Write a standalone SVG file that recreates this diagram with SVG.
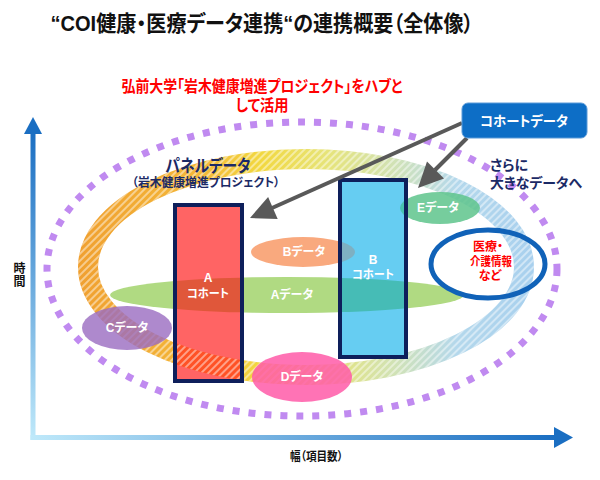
<svg xmlns="http://www.w3.org/2000/svg" width="600" height="480" viewBox="0 0 600 480">
<style>
text{font-family:"Liberation Sans","Noto Sans CJK JP",sans-serif;font-weight:bold;font-feature-settings:"palt"}
.lbl{fill:#fff;font-size:12px;text-anchor:middle}
.red{fill:#ff0000;text-anchor:middle}
.navy{fill:#1b2a66}
.cohort{fill:none;stroke:#0e1f5b;stroke-width:4}
</style>
<defs>
<linearGradient id="vAxis" x1="0" y1="0" x2="0" y2="1"><stop offset="0" stop-color="#1a6ec2"/><stop offset="1" stop-color="#bfe9fa"/></linearGradient>
<linearGradient id="hAxis" x1="0" y1="0" x2="1" y2="0"><stop offset="0" stop-color="#bfe9fa"/><stop offset="1" stop-color="#1a6ec2"/></linearGradient>
<linearGradient id="band" gradientUnits="userSpaceOnUse" x1="78" y1="0" x2="534" y2="0">
<stop offset="0" stop-color="#f0a030"/><stop offset="0.27" stop-color="#f4b838"/><stop offset="0.4" stop-color="#f2d840"/><stop offset="0.55" stop-color="#e6e47a"/><stop offset="0.7" stop-color="#d0e2b8"/><stop offset="0.83" stop-color="#b4d8ec"/><stop offset="1" stop-color="#a8d0ee"/>
</linearGradient>
<pattern id="hatch" width="5" height="5" patternUnits="userSpaceOnUse" patternTransform="rotate(45)"><rect x="0" y="0" width="2" height="5" fill="#fff" fill-opacity="0.45"/></pattern>
<clipPath id="clipA"><rect x="177" y="207" width="63" height="172"/></clipPath>
<clipPath id="clipB"><rect x="342" y="182" width="62" height="173"/></clipPath>
</defs>

<g id="axes">
<rect x="30.5" y="132" width="5" height="308" fill="url(#vAxis)"/>
<polygon points="33,117 24,134 42,134" fill="#1a6ec2"/>
<rect x="30.5" y="435" width="525" height="5" fill="url(#hAxis)"/>
<polygon points="573,437.5 554,427 554,448" fill="#1a6ec2"/>
<text x="18" y="262" font-size="12" fill="#111" style="writing-mode:vertical-rl" letter-spacing="1">時間</text>
<text x="290" y="461" font-size="12" fill="#111" textLength="53" lengthAdjust="spacingAndGlyphs">幅（項目数）</text>
</g>

<g id="scope">
<ellipse cx="302" cy="269" rx="255" ry="147" fill="none" stroke="#c08af0" stroke-width="7" stroke-dasharray="7 9"/>
</g>

<g id="panel-band">
<ellipse cx="306" cy="267" rx="218" ry="108" fill="none" stroke="url(#band)" stroke-width="20"/>
<ellipse cx="306" cy="267" rx="218" ry="108" fill="none" stroke="url(#hatch)" stroke-width="20"/>
</g>

<g id="data-a">
<ellipse cx="287" cy="295" rx="177" ry="18" fill="#b0da82"/>
<text class="lbl" x="292" y="299">Aデータ</text>
</g>
<g id="data-b">
<ellipse cx="303" cy="252" rx="52" ry="15" fill="#f8a070" fill-opacity="0.9"/>
<text class="lbl" x="304" y="256">Bデータ</text>
</g>
<g id="data-c">
<ellipse cx="127" cy="328" rx="45" ry="22" fill="#9a6cc0" fill-opacity="0.8"/>
<text class="lbl" x="127" y="332">Cデータ</text>
</g>
<g id="data-d">
<ellipse cx="302" cy="377" rx="50" ry="25" fill="#ff5aa8" fill-opacity="0.85"/>
<text class="lbl" x="302" y="381">Dデータ</text>
</g>
<g id="data-e">
<ellipse cx="440" cy="208" rx="40" ry="16" fill="#5ec48c" fill-opacity="0.85"/>
<text class="lbl" x="438" y="212">Eデータ</text>
</g>

<g id="cohort-a">
<rect x="175" y="205" width="67" height="176" fill="#ff6464"/>
<g clip-path="url(#clipA)">
<ellipse cx="287" cy="295" rx="177" ry="18" fill="#e0573a"/>
<ellipse cx="306" cy="267" rx="218" ry="108" fill="none" stroke="#ff5226" stroke-width="20"/>
<ellipse cx="306" cy="267" rx="218" ry="108" fill="none" stroke="url(#hatch)" stroke-width="20"/>
</g>
<rect class="cohort" x="175" y="205" width="67" height="176"/>
<text class="lbl" x="208" y="282">A</text>
<text class="lbl" x="208" y="298" textLength="42" lengthAdjust="spacingAndGlyphs">コホート</text>
</g>
<g id="cohort-b">
<rect x="340" y="180" width="66" height="177" fill="#66cdf2"/>
<g clip-path="url(#clipB)">
<ellipse cx="287" cy="295" rx="177" ry="18" fill="#46bcb6"/>
<ellipse cx="303" cy="252" rx="52" ry="15" fill="#7eb0c2"/>
<ellipse cx="440" cy="208" rx="40" ry="16" fill="#48c2b0"/>
</g>
<rect class="cohort" x="340" y="180" width="66" height="177"/>
<text class="lbl" x="373" y="264">B</text>
<text class="lbl" x="373" y="279" textLength="42" lengthAdjust="spacingAndGlyphs">コホート</text>
</g>

<g id="care-info">
<ellipse cx="488" cy="264" rx="57" ry="34" fill="none" stroke="#1062b8" stroke-width="5"/>
<text class="red" x="488" y="251" font-size="12">医療・</text>
<text class="red" x="491" y="266" font-size="12" textLength="42" lengthAdjust="spacingAndGlyphs">介護情報</text>
<text class="red" x="490" y="280" font-size="12">など</text>
</g>

<g id="connectors" fill="#595959" stroke="#595959">
<line x1="462" y1="123" x2="272" y2="208" stroke-width="4"/>
<polygon points="250,218 277.7,219 268.1,197" stroke="none"/>
<line x1="467" y1="138" x2="435" y2="170" stroke-width="4"/>
<polygon points="418,188 444,178.5 427,161.5" stroke="none"/>
</g>

<g id="cohort-data">
<rect x="462" y="103" width="125" height="35" rx="6" fill="#0d6ec6" stroke="#5a9ad8" stroke-width="1"/>
<text x="524" y="126" font-size="14" fill="#fff" text-anchor="middle" textLength="88" lengthAdjust="spacingAndGlyphs">コホートデータ</text>
</g>

<g id="labels">
<text x="262" y="31" font-size="22" fill="#111" text-anchor="middle" textLength="423" lengthAdjust="spacingAndGlyphs">“COI健康・医療データ連携“の連携概要（全体像）</text>
<text class="red" x="262" y="92" font-size="16" textLength="281" lengthAdjust="spacingAndGlyphs">弘前大学「岩木健康増進プロジェクト」をハブと</text>
<text class="red" x="262" y="111" font-size="16" textLength="53" lengthAdjust="spacingAndGlyphs">して活用</text>
<text class="navy" x="208" y="172" font-size="17" text-anchor="middle" textLength="85" lengthAdjust="spacingAndGlyphs">パネルデータ</text>
<text class="navy" x="206" y="187" font-size="12" text-anchor="middle" textLength="148" lengthAdjust="spacingAndGlyphs">（岩木健康増進プロジェクト）</text>
<text class="navy" x="490" y="170" font-size="14">さらに</text>
<text class="navy" x="490" y="188" font-size="14" textLength="92" lengthAdjust="spacingAndGlyphs">大きなデータへ</text>
</g>
</svg>
